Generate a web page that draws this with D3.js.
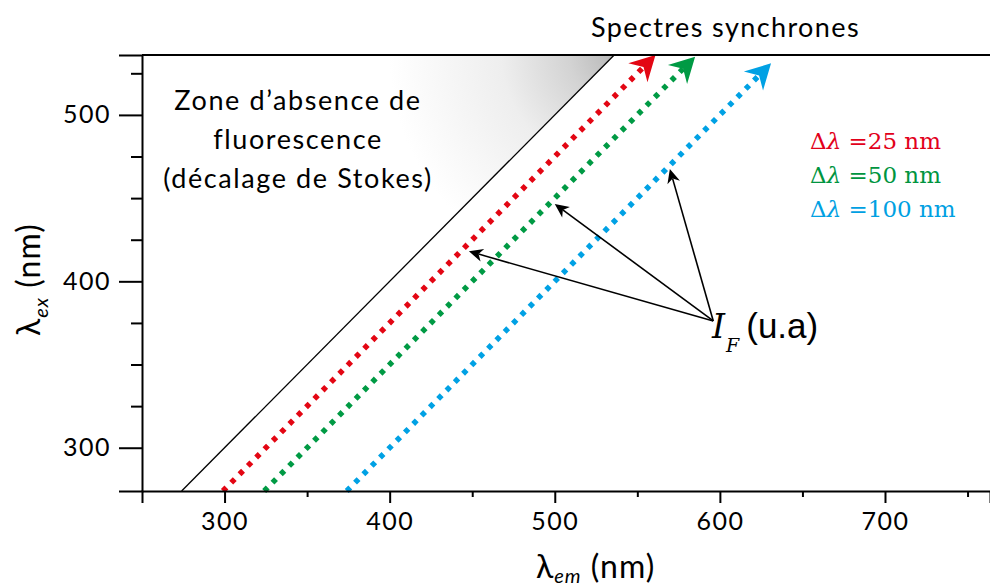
<!DOCTYPE html>
<html>
<head>
<meta charset="utf-8">
<script src="https://cdn.jsdelivr.net/npm/d3@7"></script>
<style>
  html, body { margin: 0; padding: 0; background: #fff; }
  svg { display: block; }
  .geo { font-family: "Lato", "Open Sans", sans-serif; }
</style>
</head>
<body>
<svg id="chart" width="990" height="588"></svg>
<script>
// ---------- data ----------
const xDomain = [250, 763.6];          // λem (nm)
const yDomain = [274, 536];            // λex (nm)
const xMajorTicks = [300, 400, 500, 600, 700];
const xMinorTicks = [350, 450, 550, 650, 750];
const yMajorTicks = [300, 400, 500];
const yMinorTicks = [325, 350, 375, 425, 450, 475, 525];
const deltas = [25, 50, 100];                       // Δλ (nm)
const deltaLabels = ["25 nm", "50 nm", "100 nm"];
const lineEndEm = [561, 585, 631];                  // λem at arrow tip
const stokesLineEm = [274, 536];                    // λex = λem
const annotOrigin = [596, 376.2];                   // [λem, λex]
const annotTargets = [[448, 418], [500, 446.5], [569.7, 467.5]];
const titleText = "Spectres synchrones";
const zoneLines = ["Zone d\u2019absence de", "fluorescence", "(d\u00e9calage de Stokes)"];

// ---------- styles ----------
const colors = ["#e30613", "#009a44", "#00a1e4"];
const legendColors = ["#e2001a", "#00953f", "#00a0e2"];

(function () {
const svg = d3.select("#chart");
const mL = 142, mT = 55, mB = 491, mR = 990;
const x = d3.scaleLinear().domain(xDomain).range([mL, mR]);
const y = d3.scaleLinear().domain(yDomain).range([mB, mT]);

// gradient for no-fluorescence zone
const defs = svg.append("defs");
const grad = defs.append("radialGradient").attr("id", "zoneGrad")
  .attr("gradientUnits", "userSpaceOnUse")
  .attr("cx", x(yDomain[1])).attr("cy", y(yDomain[1])).attr("r", 225);
grad.append("stop").attr("offset", "0").attr("stop-color", "#b8b8b8");
grad.append("stop").attr("offset", "0.2").attr("stop-color", "#d3d3d3");
grad.append("stop").attr("offset", "0.5").attr("stop-color", "#eeeeee");
grad.append("stop").attr("offset", "1").attr("stop-color", "#ffffff");

// zone polygon (above λex = λem)
const zonePts = [
  [x(xDomain[0]), y(yDomain[1])],
  [x(yDomain[1]), y(yDomain[1])],
  [x(yDomain[0]), y(yDomain[0])],
  [x(xDomain[0]), y(yDomain[0])]
];
svg.append("path").attr("d", d3.line()(zonePts)).attr("fill", "url(#zoneGrad)");

// Stokes line
svg.append("line")
  .attr("x1", x(stokesLineEm[0])).attr("y1", y(stokesLineEm[0]))
  .attr("x2", x(stokesLineEm[1])).attr("y2", y(stokesLineEm[1]))
  .attr("stroke", "#000").attr("stroke-width", 1.3);

// synchronous lines with arrowheads
deltas.forEach((d, i) => {
  const x0 = x(yDomain[0] + d), y0 = y(yDomain[0]);
  const x1 = x(lineEndEm[i]), y1 = y(lineEndEm[i] - d);
  const ang = Math.atan2(y1 - y0, x1 - x0);
  const L = 25, W = 13.5, N = 17;
  const nx = x1 - N * Math.cos(ang), ny = y1 - N * Math.sin(ang);
  svg.append("line")
    .attr("x1", x0).attr("y1", y0).attr("x2", nx).attr("y2", ny)
    .attr("stroke", colors[i]).attr("stroke-width", 5.5)
    .attr("stroke-dasharray", "5,6.8");
  svg.append("path")
    .attr("d", `M0,0 L${-L},${-W} L${-N},0 L${-L},${W} Z`)
    .attr("transform", `translate(${x1},${y1}) rotate(${ang * 180 / Math.PI})`)
    .attr("fill", colors[i]);
});

// axes
const yAxis = d3.axisLeft(y).tickValues(yMajorTicks).tickSize(23).tickPadding(8);
const gy = svg.append("g").attr("transform", `translate(${mL},0)`).call(yAxis);
gy.selectAll(".tick line").attr("stroke-width", 2);
gy.select(".domain").attr("stroke-width", 2);
gy.selectAll("text").attr("class", "geo").attr("font-size", 25)
  .attr("letter-spacing", 1.5).attr("fill", "#000");
const yMinor = d3.axisLeft(y).tickValues(yMinorTicks).tickSize(11).tickFormat("");
const gym = svg.append("g").attr("transform", `translate(${mL},0)`).call(yMinor);
gym.select(".domain").remove();
gym.selectAll(".tick line").attr("stroke-width", 2);

const xAxis = d3.axisBottom(x).tickValues(xMajorTicks).tickSize(12).tickPadding(9);
const gx = svg.append("g").attr("transform", `translate(0,${mB})`).call(xAxis);
gx.selectAll(".tick line").attr("stroke-width", 2);
gx.select(".domain").attr("stroke-width", 2);
gx.selectAll("text").attr("class", "geo").attr("font-size", 25)
  .attr("letter-spacing", 1.5).attr("fill", "#000");
const xMinor = d3.axisBottom(x).tickValues(xMinorTicks).tickSize(6).tickFormat("");
const gxm = svg.append("g").attr("transform", `translate(0,${mB})`).call(xMinor);
gxm.select(".domain").remove();
gxm.selectAll(".tick line").attr("stroke-width", 2);

// top border
svg.append("line").attr("x1", mL).attr("x2", mR).attr("y1", mT).attr("y2", mT)
  .attr("stroke", "#000").attr("stroke-width", 2);

// axis titles
const xt = svg.append("text").attr("class", "geo").attr("x", 536).attr("y", 578)
  .attr("font-size", 32).attr("letter-spacing", 1).attr("fill", "#000");
xt.append("tspan").text("\u03bb");
xt.append("tspan").attr("font-size", 20).attr("font-style", "italic").attr("dy", 5).text("em");
xt.append("tspan").attr("dy", -5).text(" (nm)");

const yt = svg.append("text").attr("class", "geo")
  .attr("transform", "translate(40,336) rotate(-90)")
  .attr("font-size", 32).attr("letter-spacing", 1).attr("fill", "#000");
yt.append("tspan").text("\u03bb");
yt.append("tspan").attr("font-size", 20).attr("font-style", "italic").attr("dy", 8).text("ex");
yt.append("tspan").attr("dy", -8).text(" (nm)");

// title
svg.append("text").attr("class", "geo").attr("x", 591).attr("y", 37)
  .attr("font-size", 27).attr("letter-spacing", 1.4).attr("fill", "#000").text(titleText);

// zone text
svg.append("g").selectAll("text").data(zoneLines).join("text")
  .attr("class", "geo").attr("x", 298).attr("y", (d, i) => 110 + i * 39)
  .attr("text-anchor", "middle").attr("font-size", 27).attr("letter-spacing", 1.6)
  .attr("fill", "#000").text(d => d);

// legend
const leg = svg.append("g").selectAll("text").data(deltaLabels).join("text")
  .attr("x", 810).attr("y", (d, i) => 149 + i * 34)
  .attr("font-family", "DejaVu Serif, serif").attr("font-size", 23)
  .attr("fill", (d, i) => legendColors[i]);
leg.append("tspan").text("\u0394");
leg.append("tspan").attr("font-style", "italic").text("\u03bb");
leg.append("tspan").text(d => " =" + d);

// annotation arrows
const ox = x(annotOrigin[0]), oy = y(annotOrigin[1]);
annotTargets.forEach(t => {
  const tx = x(t[0]), ty = y(t[1]);
  const ang = Math.atan2(ty - oy, tx - ox);
  const L = 14, W = 6.5, N = 10;
  svg.append("line").attr("x1", ox).attr("y1", oy)
    .attr("x2", tx - N * Math.cos(ang)).attr("y2", ty - N * Math.sin(ang))
    .attr("stroke", "#000").attr("stroke-width", 1.6);
  svg.append("path")
    .attr("d", `M0,0 L${-L},${-W} L${-N},0 L${-L},${W} Z`)
    .attr("transform", `translate(${tx},${ty}) rotate(${ang * 180 / Math.PI})`)
    .attr("fill", "#000");
});

// I_F (u.a)
const ifText = svg.append("text").attr("x", 712).attr("y", 338).attr("fill", "#000");
ifText.append("tspan").attr("font-family", "DejaVu Serif, serif").attr("font-style", "italic")
  .attr("font-size", 33).text("I");
ifText.append("tspan").attr("font-family", "DejaVu Serif, serif").attr("font-style", "italic")
  .attr("font-size", 19).attr("dy", 14).attr("dx", 1).text("F");
ifText.append("tspan").attr("font-family", "Liberation Sans, Arial, sans-serif")
  .attr("font-size", 35).attr("dy", -14).attr("dx", 7).text("(u.a)");
})();
</script>
</body>
</html>
